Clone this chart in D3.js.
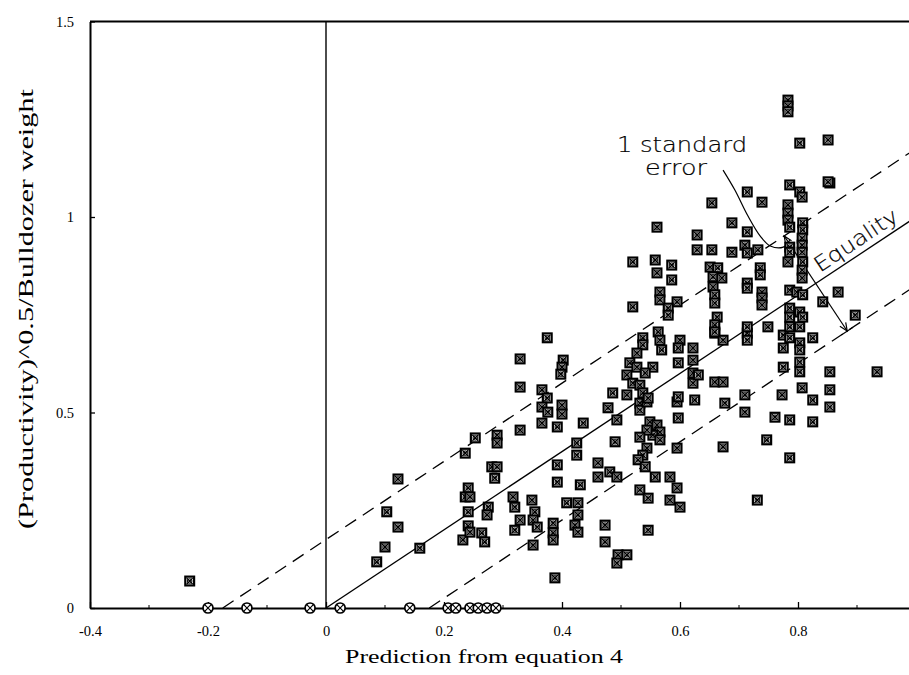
<!DOCTYPE html>
<html><head><meta charset="utf-8">
<script src="https://cdn.jsdelivr.net/npm/d3@7"></script>
<style>
html,body{margin:0;padding:0;background:#fff;}
svg{display:block;}
.serif{font-family:"Liberation Serif","Times New Roman",Times,"Nimbus Roman","FreeSerif","Noto Serif","DejaVu Serif",serif;}
.sans{font-family:"DejaVu Sans","Liberation Sans",sans-serif;}
</style></head>
<body>
<svg id="chart" width="909" height="675"></svg>
<script>
// ---------------- data ----------------
const xTicks = [-0.4, -0.2, 0, 0.2, 0.4, 0.6, 0.8];
const xTickLabels = ["-0.4", "-0.2", "0", "0.2", "0.4", "0.6", "0.8"];
const yTicks = [0, 0.5, 1, 1.5];
const yTickLabels = ["0", "0.5", "1", "1.5"];
const xTitle = "Prediction from equation 4";
const yTitle = "(Productivity)^0.5/Bulldozer weight";
const seLabel = ["1 standard", "error"];
const equalityLabel = "Equality";
const standardError = 0.175;

// predictions whose observed value is zero (circle markers)
const zeroPredictions = [-0.200, -0.134, -0.027, 0.024, 0.142, 0.207, 0.220, 0.244, 0.258, 0.273, 0.288];

// [prediction, observed] (square markers)
const observations = [
[-0.231,0.069],[0.086,0.118],[0.100,0.156],[0.103,0.246],[0.122,0.207],[0.122,0.330],[0.159,0.153],
[0.232,0.174],[0.236,0.396],[0.253,0.435],[0.290,0.442],[0.290,0.422],[0.329,0.455],[0.281,0.361],[0.290,0.361],[0.286,0.332],[0.241,0.307],[0.236,0.284],[0.244,0.284],[0.317,0.284],[0.320,0.258],[0.349,0.276],[0.241,0.246],[0.275,0.258],[0.273,0.238],[0.354,0.246],[0.351,0.225],[0.241,0.210],[0.244,0.194],[0.329,0.225],[0.320,0.199],[0.264,0.192],[0.269,0.169],[0.351,0.161],
[0.329,0.565],[0.329,0.637],[0.375,0.691],[0.402,0.634],[0.400,0.616],[0.398,0.598],[0.366,0.558],[0.375,0.537],[0.366,0.514],[0.376,0.501],[0.400,0.519],[0.400,0.496],[0.366,0.473],[0.392,0.463],[0.392,0.366],[0.392,0.322],[0.358,0.207],[0.385,0.217],[0.385,0.192],[0.385,0.174],[0.408,0.269],[0.388,0.077],
[0.436,0.473],[0.478,0.512],[0.493,0.481],[0.532,0.524],[0.532,0.506],[0.544,0.527],[0.595,0.527],[0.625,0.532],[0.597,0.486],[0.549,0.476],[0.561,0.468],[0.566,0.450],[0.554,0.442],[0.544,0.455],[0.532,0.437],[0.566,0.430],[0.490,0.425],[0.425,0.422],[0.595,0.409],[0.544,0.409],[0.537,0.391],[0.529,0.379],[0.425,0.391],[0.541,0.361],[0.461,0.371],[0.461,0.335],[0.481,0.348],[0.493,0.335],[0.558,0.335],[0.583,0.335],[0.595,0.307],[0.431,0.315],[0.532,0.302],[0.546,0.281],[0.583,0.276],[0.600,0.258],[0.427,0.269],[0.427,0.238],[0.422,0.212],[0.427,0.194],[0.473,0.212],[0.546,0.199],[0.473,0.169],[0.495,0.136],[0.510,0.136],[0.493,0.115],
[0.561,0.974],[0.629,0.954],[0.629,0.916],[0.520,0.885],[0.558,0.890],[0.561,0.857],[0.586,0.877],[0.586,0.839],[0.566,0.808],[0.566,0.788],[0.595,0.783],[0.580,0.767],[0.580,0.749],[0.520,0.770],[0.537,0.691],[0.537,0.673],[0.563,0.706],[0.566,0.685],[0.569,0.660],[0.600,0.685],[0.597,0.665],[0.597,0.627],[0.622,0.665],[0.622,0.634],[0.622,0.601],[0.622,0.575],[0.527,0.652],[0.515,0.627],[0.527,0.616],[0.554,0.616],[0.541,0.601],[0.510,0.596],[0.520,0.575],[0.532,0.570],[0.537,0.550],[0.486,0.550],[0.510,0.545],[0.546,0.537],[0.597,0.540],
[0.659,0.703],[0.673,0.685],[0.714,0.703],[0.714,0.685],[0.775,0.698],[0.786,0.691],[0.803,0.678],[0.825,0.691],[0.775,0.665],[0.803,0.660],[0.803,0.629],[0.803,0.604],[0.775,0.616],[0.631,0.596],[0.659,0.578],[0.673,0.578],[0.854,0.604],[0.934,0.604],[0.710,0.545],[0.773,0.545],[0.807,0.563],[0.825,0.532],[0.854,0.558],[0.854,0.514],[0.676,0.524],[0.710,0.501],[0.761,0.488],[0.786,0.481],[0.825,0.476],[0.747,0.430],[0.673,0.412],[0.786,0.384],[0.731,0.276],
[0.786,1.082],[0.803,1.064],[0.807,1.051],[0.854,1.087],[0.714,1.064],[0.654,1.036],[0.739,1.038],[0.783,1.031],[0.783,1.010],[0.783,0.992],[0.808,0.985],[0.808,0.967],[0.807,0.946],[0.807,0.928],[0.807,0.910],[0.786,0.974],[0.786,0.923],[0.786,0.910],[0.688,0.985],[0.714,0.962],[0.654,0.916],[0.688,0.910],[0.710,0.928],[0.714,0.908],[0.732,0.916],[0.651,0.872],[0.664,0.870],[0.656,0.847],[0.671,0.844],[0.656,0.821],[0.659,0.801],[0.659,0.780],[0.736,0.870],[0.736,0.852],[0.714,0.831],[0.714,0.818],[0.739,0.808],[0.739,0.793],[0.739,0.775],[0.783,0.885],[0.808,0.885],[0.807,0.864],[0.807,0.844],[0.786,0.813],[0.798,0.808],[0.808,0.801],[0.842,0.783],[0.868,0.808],[0.897,0.749],[0.786,0.767],[0.786,0.744],[0.803,0.757],[0.808,0.744],[0.786,0.719],[0.803,0.719],[0.663,0.744],[0.659,0.724],[0.659,0.706],[0.714,0.719],[0.749,0.719],
[0.783,1.299],[0.783,1.284],[0.783,1.269],[0.803,1.189],[0.851,1.197],[0.851,1.090]
];

// leader curve from the "1 standard error" label (data units)
const leaderPath = [[0.673,1.120],[0.693,1.069],[0.715,1.003],[0.736,0.951],[0.753,0.926],[0.775,0.923],[0.786,0.941]];

// ---------------- layout ----------------
const svg = d3.select("#chart");
const x = d3.scaleLinear().domain([-0.4, 1.0]).range([90, 916]);
const y = d3.scaleLinear().domain([0, 1.5]).range([608, 21.5]);

svg.append("defs").append("clipPath").attr("id","plot")
  .append("rect").attr("x",x(-0.4)).attr("y",y(1.5)).attr("width",x(1)-x(-0.4)).attr("height",y(0)-y(1.5));

// axes
const xAxis = d3.axisBottom(x).tickValues(xTicks).tickFormat((d,i)=>xTickLabels[i])
  .tickSizeInner(-6).tickSizeOuter(0).tickPadding(18);
const gx = svg.append("g").attr("transform",`translate(0,${y(0)})`).call(xAxis);
const yAxis = d3.axisLeft(y).tickValues(yTicks).tickFormat((d,i)=>yTickLabels[i])
  .tickSizeInner(-5).tickSizeOuter(0).tickPadding(16);
const gy = svg.append("g").attr("transform",`translate(${x(-0.4)},0)`).call(yAxis);
[gx,gy].forEach(g=>{
  g.attr("font-family",null).attr("font-size",null);
  g.select(".domain").attr("stroke","#000").attr("stroke-width",2);
  g.selectAll(".tick line").attr("stroke","#000").attr("stroke-width",1.3);
  g.selectAll(".tick text").attr("class","serif").style("font-size","14.5px").attr("fill","#000");
});
// minor ticks
const minorX = d3.range(-0.3, 1.0, 0.1).filter(v=>Math.abs(Math.round(v*10)%2)===1);
svg.append("g").selectAll("line").data(minorX).join("line")
  .attr("x1",d=>x(d)).attr("x2",d=>x(d)).attr("y1",y(0)).attr("y2",y(0)-3)
  .attr("stroke","#000").attr("stroke-width",1);
// top frame line and zero line
svg.append("line").attr("x1",x(-0.4)).attr("x2",x(1)).attr("y1",y(1.5)).attr("y2",y(1.5))
  .attr("stroke","#000").attr("stroke-width",2);
svg.append("line").attr("x1",x(0)).attr("x2",x(0)).attr("y1",y(1.5)).attr("y2",y(0))
  .attr("stroke","#000").attr("stroke-width",1.4);

// titles
svg.append("text").attr("class","serif").attr("x",484).attr("y",663).attr("text-anchor","middle")
  .style("font-size","19px").attr("textLength",278).attr("lengthAdjust","spacingAndGlyphs")
  .text(xTitle);
svg.append("text").attr("class","serif").attr("transform","translate(33,309) rotate(-90)").attr("text-anchor","middle")
  .style("font-size","20px").attr("textLength",440).attr("lengthAdjust","spacingAndGlyphs")
  .text(yTitle);

// reference lines
const line = d3.line().x(d=>x(d[0])).y(d=>y(d[1]));
const plot = svg.append("g").attr("clip-path","url(#plot)");
plot.append("path").attr("d",line([[0,0],[1,1]])).attr("fill","none").attr("stroke","#000").attr("stroke-width",1.3);
plot.append("path").attr("d",line([[-standardError,0],[1,1+standardError]])).attr("fill","none")
  .attr("stroke","#000").attr("stroke-width",1.3).attr("stroke-dasharray","13,8");
plot.append("path").attr("d",line([[standardError,0],[1,1-standardError]])).attr("fill","none")
  .attr("stroke","#000").attr("stroke-width",1.3).attr("stroke-dasharray","13,8");

// annotation: perpendicular standard-error arrow
const ex = 0.83;
const P = [x(ex), y(ex)];
const dx = x(1)-x(0), dy = y(1)-y(0), dl = Math.hypot(dx,dy);
const ux = dx/dl, uy = dy/dl;            // along line
const nx = -uy, ny = ux;                 // perpendicular (down-right)
const dist = (y(0)-y(standardError)) * Math.abs(ux);
const A = [P[0]-nx*dist, P[1]-ny*dist], B = [P[0]+nx*dist, P[1]+ny*dist];
const ann = svg.append("g").attr("stroke","#000").attr("fill","none").attr("stroke-width",1.2);
ann.append("line").attr("x1",A[0]).attr("y1",A[1]).attr("x2",B[0]).attr("y2",B[1]);
function arrowHead(tip, dirx, diry){
  const s=8, w=3.5;
  const bx = tip[0]-dirx*s, by = tip[1]-diry*s;
  ann.append("path").attr("d",`M${bx - diry*w},${by + dirx*w}L${tip[0]},${tip[1]}L${bx + diry*w},${by - dirx*w}`);
}
arrowHead(B, nx, ny);
arrowHead(A, -nx, -ny);
ann.append("line").attr("x1",B[0]-ux*7).attr("y1",B[1]-uy*7).attr("x2",B[0]+ux*7).attr("y2",B[1]+uy*7);
// leader curve
ann.append("path").attr("d", d3.line().x(d=>x(d[0])).y(d=>y(d[1])).curve(d3.curveCatmullRom)(leaderPath));

// annotation texts
function thinText(sel){
  return sel.attr("class","sans").style("font-weight","200").attr("fill","#000")
    .attr("stroke","#000").attr("stroke-width",0.2);
}
thinText(svg.append("text")).style("font-size","21px").attr("x",617).attr("y",152)
  .attr("textLength",130).attr("lengthAdjust","spacingAndGlyphs").text(seLabel[0]);
thinText(svg.append("text")).style("font-size","21px").attr("x",645).attr("y",175)
  .attr("textLength",62).attr("lengthAdjust","spacingAndGlyphs").text(seLabel[1]);
const angle = Math.atan2(dy,dx)*180/Math.PI;
const eq = 0.91;
thinText(svg.append("text")).attr("transform",`translate(${x(eq)-3},${y(eq)-6}) rotate(${angle})`)
  .attr("text-anchor","middle").style("font-size","21px")
  .attr("textLength",96).attr("lengthAdjust","spacingAndGlyphs").text(equalityLabel);

// markers
const sq = svg.append("g");
const s = 4.4;
const pts = sq.selectAll("g").data(observations).join("g")
  .attr("transform",d=>`translate(${x(d[0])},${y(d[1])})`);
pts.append("rect").attr("x",-s).attr("y",-s).attr("width",2*s).attr("height",2*s)
  .attr("fill","#fff").attr("stroke","#000").attr("stroke-width",2.2);
pts.append("path").attr("d",`M${-s+1.5},${-s+1.5}L${s-1.5},${s-1.5}M${-s+1.5},${s-1.5}L${s-1.5},${-s+1.5}`)
  .attr("stroke","#000").attr("stroke-width",1.4);
pts.append("circle").attr("r",2.3).attr("fill","none").attr("stroke","#000").attr("stroke-width",1);

const zc = svg.append("g").selectAll("g").data(zeroPredictions).join("g")
  .attr("transform",d=>`translate(${x(d)},${y(0)})`);
zc.append("circle").attr("r",5).attr("fill","#fff").attr("stroke","#000").attr("stroke-width",1.7);
zc.append("path").attr("d","M-3.3,-3.3L3.3,3.3M-3.3,3.3L3.3,-3.3").attr("stroke","#000").attr("stroke-width",1.2);
</script>
</body></html>
